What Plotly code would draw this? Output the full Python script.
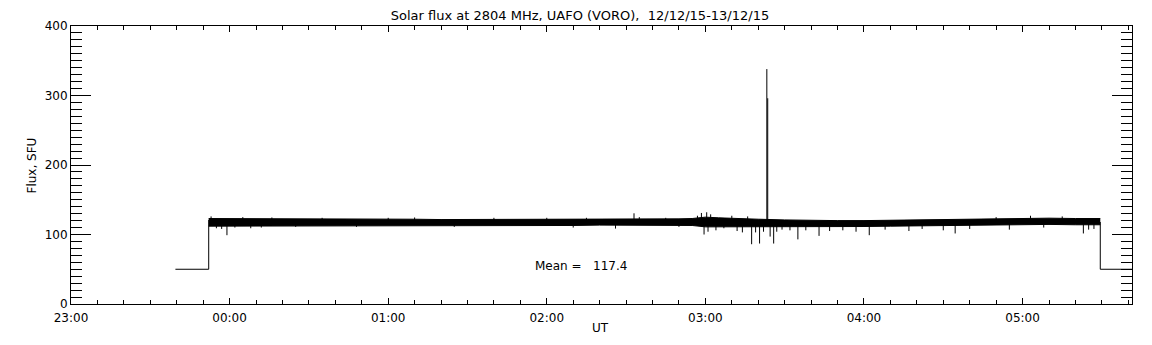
import plotly.graph_objects as go

# ---------------- data ----------------
title_text = "Solar flux at 2804 MHz, UAFO (VORO),  12/12/15-13/12/15"
mean_value = 117.4

# quiet-level / off-sun steps (None separates pieces)
step_times = ["23:39:30", "23:52:06", "23:52:06", None, "05:29:24", "05:29:24", "05:45:00"]
step_values = [50, 50, 121, None, 118, 50, 50]

# envelope of the dense noisy record
band_times = ["23:52:06", "00:00:00", "00:10:00", "00:20:00", "00:30:00", "00:40:00",
              "00:50:00", "01:00:00", "01:10:00", "01:20:00", "01:30:00", "01:40:00",
              "01:50:00", "02:00:00", "02:10:00", "02:20:00", "02:30:00", "02:40:00",
              "02:50:00", "02:55:00", "03:00:00", "03:05:00", "03:10:00", "03:20:00",
              "03:30:00", "03:40:00", "03:50:00", "04:00:00", "04:10:00", "04:20:00",
              "04:30:00", "04:40:00", "04:50:00", "05:00:00", "05:10:00", "05:20:00",
              "05:29:24"]
band_hi = [123, 123, 122.5, 122.5, 122.5, 122, 122, 122, 122, 121.5, 121.5, 121.5,
           121.5, 121.5, 121.5, 122, 122, 122, 122.5, 123, 125, 124, 123, 122,
           121, 120, 120, 120, 120.5, 121, 121.5, 122.5, 123.5, 124, 123.5, 123, 123]
band_lo = [112, 112, 112.5, 113, 113, 113, 113, 113, 113, 113, 113, 113,
           113, 113, 113, 113.5, 113.5, 113.5, 113.5, 113, 111, 111, 111, 110.5,
           110.5, 111, 111, 111.5, 112, 112.5, 113, 114, 114.5, 115, 114.5, 114, 114]

# individual excursions (bursts and dips)
spike_times = ["23:53:00", "23:55:00", "23:57:00", "23:59:00", "00:02:00", "00:05:00",
               "00:08:00", "00:12:00", "00:16:00", "00:25:00", "00:35:00", "00:48:00",
               "01:00:00", "01:10:00", "01:25:00", "01:40:00", "02:00:00", "02:10:00",
               "02:15:00", "02:26:00", "02:33:00", "02:35:00", "02:45:00", "02:50:00",
               "02:57:00", "02:58:30", "02:59:30", "03:00:30", "03:01:00", "03:02:00",
               "03:04:00", "03:07:00", "03:10:00", "03:12:00", "03:14:00", "03:16:00",
               "03:17:30", "03:19:00", "03:20:30", "03:22:00", "03:23:15", "03:23:35",
               "03:24:30", "03:25:50", "03:27:00", "03:29:00", "03:32:00", "03:35:00",
               "03:38:00", "03:43:00", "03:47:00", "03:52:00", "03:57:00", "04:02:00",
               "04:08:00", "04:17:00", "04:22:00", "04:30:00", "04:34:30", "04:40:00",
               "04:50:00", "04:55:00", "05:03:00", "05:08:00", "05:15:00", "05:23:00",
               "05:25:00", "05:27:00"]
spike_values = [126, 109, 108, 99, 110, 125,
                109, 110, 124.5, 111, 124, 111,
                124, 124.5, 111, 124, 124, 110,
                124, 108.5, 130.5, 125, 124, 111,
                127, 131, 100, 132, 104, 129,
                106, 109, 127, 105, 103, 126,
                86, 103, 87, 104, 338, 296,
                97, 87, 104, 107, 106, 93,
                106, 98, 105, 106, 104, 99,
                107, 105, 108, 106, 101.5, 108,
                125, 107, 127, 110, 126, 101.5,
                107, 108]

x_range = ["23:00:00", "05:41:24"]


def to_dt(t):
    if t is None:
        return None
    day = "2015-12-12" if int(t[:2]) >= 12 else "2015-12-13"
    return f"{day} {t}"


# ---------------- figure ----------------
# page body has an 8 px margin, so the figure is sized to fill the rest of the window
W, H = 1144, 337
L, R, T, B = 63, 20, 11, 41
PW, PH = W - L - R, H - T - B

fig = go.Figure()

# band: lower edge, then upper edge filled to it
fig.add_trace(go.Scatter(x=[to_dt(t) for t in band_times], y=band_lo, mode="lines",
                         line=dict(color="black", width=1), hoverinfo="skip",
                         showlegend=False))
fig.add_trace(go.Scatter(x=[to_dt(t) for t in band_times], y=band_hi, mode="lines",
                         line=dict(color="black", width=1), fill="tonexty",
                         fillcolor="black", hoverinfo="skip", showlegend=False))

# excursions drawn as vertical strokes from the mean level
sx, sy = [], []
for t, v in zip(spike_times, spike_values):
    sx += [to_dt(t), to_dt(t), None]
    sy += [mean_value, v, None]
fig.add_trace(go.Scatter(x=sx, y=sy, mode="lines", line=dict(color="black", width=1),
                         hoverinfo="skip", showlegend=False))

# steps
fig.add_trace(go.Scatter(x=[to_dt(t) for t in step_times], y=step_values, mode="lines",
                         line=dict(color="black", width=1), hoverinfo="skip",
                         showlegend=False, connectgaps=False))

font_family = "DejaVu Sans"

fig.update_layout(
    width=W, height=H,
    margin=dict(l=L, r=R, t=T, b=B, pad=0),
    paper_bgcolor="white", plot_bgcolor="white",
    font=dict(family=font_family, size=12, color="black"),
    title=dict(text=title_text, x=(580 - 8) / W, xanchor="center", xref="container",
               y=1 - 3 / H, yref="container", yanchor="top", pad=dict(t=0, b=0),
               font=dict(family=font_family, size=13, color="black")),
    showlegend=False,
)

fig.update_xaxes(
    type="date", range=[to_dt(x_range[0]), to_dt(x_range[1])],
    showgrid=False, zeroline=False,
    showline=True, linecolor="black", linewidth=1, mirror="ticks",
    ticks="inside", ticklen=6, tickcolor="black", tickwidth=1,
    dtick=3600000, tick0="2015-12-12 23:00:00", tickformat="%H:%M",
    tickfont=dict(size=12), ticklabelstandoff=3,
    minor=dict(dtick=600000, ticks="inside", ticklen=4, tickcolor="black", showgrid=False),
)
fig.update_yaxes(
    range=[0, 400], showgrid=False, zeroline=False,
    showline=True, linecolor="black", linewidth=1, mirror="ticks",
    ticks="inside", ticklen=20, tickcolor="black", tickwidth=1,
    dtick=100, tick0=0, tickfont=dict(size=12),
    minor=dict(dtick=10, ticks="inside", ticklen=11, tickcolor="black", showgrid=False),
)

# text positions given in page pixels (reference), converted to paper coordinates
def px_x(x):
    return (x - 8 - L) / PW


def px_y(y):
    return 1 - (y - 8 - T) / PH


fig.add_annotation(text="UT", xref="paper", yref="paper", x=px_x(600), y=px_y(329),
                   xanchor="center", yanchor="middle", showarrow=False, font=dict(size=12))
fig.add_annotation(text="Flux, SFU", xref="paper", yref="paper", x=px_x(32), y=px_y(162),
                   xanchor="center", yanchor="middle", textangle=-90,
                   showarrow=False, font=dict(size=12))
fig.add_annotation(text=f"Mean =   {mean_value}", xref="paper", yref="paper",
                   x=px_x(581), y=px_y(265), xanchor="center",
                   yanchor="middle", showarrow=False, font=dict(size=12))

fig.write_html("out.html")
